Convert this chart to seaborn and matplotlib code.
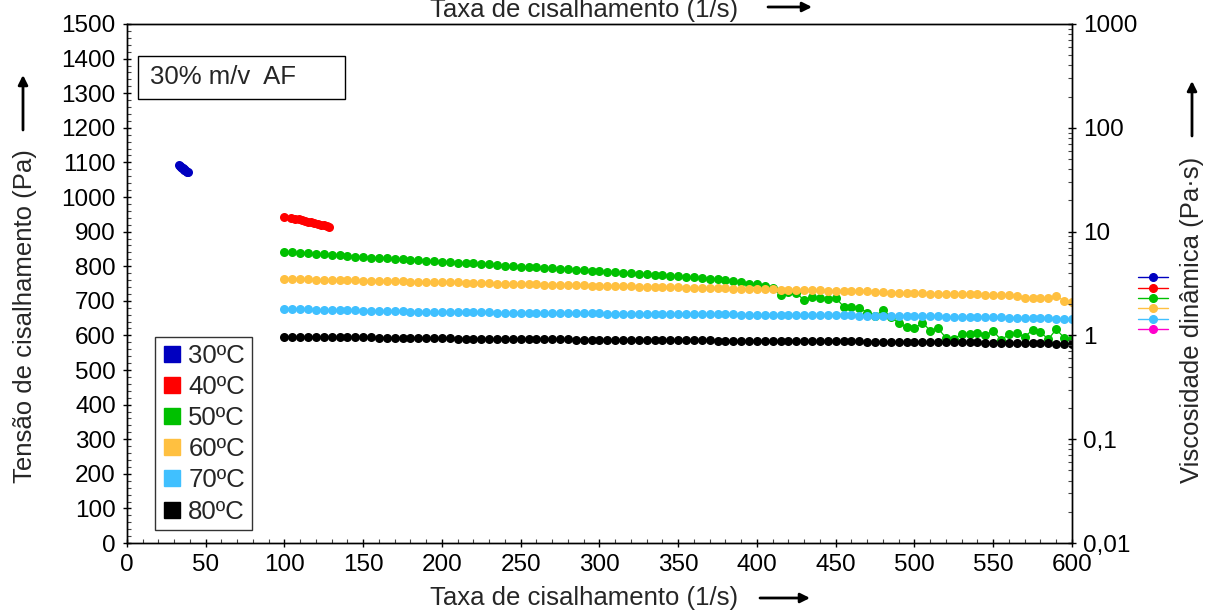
import numpy as np
import pandas as pd
import matplotlib
matplotlib.use("Agg")
import matplotlib.pyplot as plt
from matplotlib.lines import Line2D
from matplotlib.patches import Rectangle
from matplotlib.ticker import MultipleLocator, FixedLocator, FixedFormatter, LogLocator
import seaborn as sns

# =============================================================================
# DADOS
# =============================================================================
temperaturas = ["30ºC", "40ºC", "50ºC", "60ºC", "70ºC", "80ºC"]
cores = ["#0000C0", "#FF0000", "#00C000", "#FFC040", "#40C0FF", "#000000"]

taxa_30 = [33.0, 33.5, 34.0, 34.5, 35.0, 35.5, 36.0, 36.5, 37.0, 37.5, 38.0, 38.5]
tensao_30 = [1092, 1090, 1088, 1086, 1085, 1083, 1081, 1079, 1077, 1075, 1073, 1071]

taxa_40 = [100, 104, 107, 109, 111, 113, 115, 117, 119, 121, 123, 125, 127, 128.5]
tensao_40 = [941, 940, 937, 935, 933, 931, 929, 927, 925, 922, 920, 918, 916, 913]

taxa = [100, 105, 110, 115, 120, 125, 130, 135, 140, 145,
        150, 155, 160, 165, 170, 175, 180, 185, 190, 195,
        200, 205, 210, 215, 220, 225, 230, 235, 240, 245,
        250, 255, 260, 265, 270, 275, 280, 285, 290, 295,
        300, 305, 310, 315, 320, 325, 330, 335, 340, 345,
        350, 355, 360, 365, 370, 375, 380, 385, 390, 395,
        400, 405, 410, 415, 420, 425, 430, 435, 440, 445,
        450, 455, 460, 465, 470, 475, 480, 485, 490, 495,
        500, 505, 510, 515, 520, 525, 530, 535, 540, 545,
        550, 555, 560, 565, 570, 575, 580, 585, 590, 595,
        600]

tensao_50 = [841, 840, 838, 837, 835, 834, 833, 831, 830, 828,
             827, 825, 824, 823, 821, 820, 819, 817, 816, 815,
             813, 812, 810, 809, 808, 806, 805, 803, 802, 801,
             799, 798, 797, 795, 794, 792, 791, 790, 788, 787,
             786, 784, 783, 781, 780, 778, 777, 776, 774, 772,
             771, 769, 768, 766, 764, 762, 760, 757, 754, 749,
             749, 743, 736, 717, 726, 722, 702, 710, 709, 705,
             709, 683, 683, 680, 666, 656, 673, 654, 635, 625,
             620, 637, 614, 620, 593, 591, 603, 604, 606, 601,
             613, 587, 603, 606, 596, 616, 609, 589, 618, 593,
             590]

tensao_60 = [763, 763, 762, 762, 761, 761, 760, 760, 759, 759,
             758, 758, 757, 757, 756, 756, 755, 755, 755, 754,
             754, 753, 753, 752, 752, 751, 751, 750, 750, 749,
             749, 748, 748, 747, 747, 746, 746, 745, 745, 744,
             744, 743, 743, 742, 742, 741, 741, 740, 740, 739,
             739, 738, 738, 737, 737, 736, 736, 735, 735, 734,
             734, 733, 733, 732, 732, 731, 731, 730, 730, 729,
             729, 728, 728, 727, 727, 726, 725, 724, 723, 722,
             722, 722, 719, 719, 719, 719, 719, 719, 719, 717,
             717, 717, 717, 715, 707, 709, 709, 707, 715, 699,
             697]

tensao_70 = [676, 676, 675, 675, 674, 674, 673, 673, 672, 672,
             671, 671, 671, 670, 670, 670, 669, 669, 669, 668,
             668, 668, 668, 667, 667, 667, 667, 666, 666, 666,
             666, 665, 665, 665, 665, 664, 664, 664, 664, 664,
             664, 663, 663, 663, 663, 663, 662, 662, 662, 662,
             662, 662, 661, 661, 661, 661, 661, 661, 660, 660,
             660, 660, 660, 659, 659, 659, 659, 659, 658, 658,
             658, 658, 658, 657, 657, 657, 657, 656, 656, 656,
             656, 656, 655, 655, 654, 654, 653, 653, 653, 652,
             652, 652, 651, 651, 650, 650, 649, 649, 648, 647,
             646]

tensao_80 = [596, 596, 595, 595, 595, 595, 594, 594, 594, 594,
             594, 594, 593, 593, 593, 593, 593, 592, 592, 592,
             592, 592, 591, 591, 591, 591, 591, 590, 590, 590,
             590, 590, 589, 589, 589, 589, 589, 588, 588, 588,
             588, 588, 588, 587, 587, 587, 587, 587, 587, 586,
             586, 586, 586, 586, 586, 585, 585, 585, 585, 585,
             585, 584, 584, 584, 584, 584, 584, 583, 583, 583,
             583, 583, 583, 583, 582, 582, 582, 582, 582, 582,
             582, 581, 581, 581, 581, 580, 580, 580, 580, 579,
             579, 579, 579, 578, 578, 578, 577, 577, 576, 576,
             575]

visc_ticks = [0.01, 0.1, 1, 10, 100, 1000]
visc_labels = ["0,01", "0,1", "1", "10", "100", "1000"]
legenda_visc_cores = ["#0000C0", "#FF0000", "#00C000", "#FFC040", "#40C0FF", "#FF00CC"]

# tabela longa para o seaborn
series = [(taxa_30, tensao_30), (taxa_40, tensao_40), (taxa, tensao_50),
          (taxa, tensao_60), (taxa, tensao_70), (taxa, tensao_80)]
partes = []
for temp, (xs, ys) in zip(temperaturas, series):
    partes.append(pd.DataFrame({"taxa": xs, "tensao": ys, "temp": temp}))
df = pd.concat(partes, ignore_index=True)

# =============================================================================
# PLOTAGEM
# =============================================================================
sns.set_style("ticks")
plt.rcParams["font.family"] = ["Liberation Sans", "DejaVu Sans"]

FS_TICK = 17.5
FS_TXT = 18.5

fig = plt.figure(figsize=(12.08, 6.12), dpi=100)
ax = fig.add_axes([0.1051, 0.1127, 0.7823, 0.8481])

sns.lineplot(data=df, x="taxa", y="tensao", hue="temp", hue_order=temperaturas,
             palette=cores, marker="o", markersize=6.5, markeredgewidth=0,
             linewidth=0.9, estimator=None, sort=False, legend=False, ax=ax)

ax.set_xlim(0, 600)
ax.set_ylim(0, 1500)
ax.xaxis.set_major_locator(MultipleLocator(50))
ax.xaxis.set_minor_locator(MultipleLocator(10))
ax.yaxis.set_major_locator(MultipleLocator(100))
ax.yaxis.set_minor_locator(MultipleLocator(20))
ax.set_xlabel("")
ax.set_ylabel("")
ax.tick_params(which="major", direction="inout", length=6, width=1,
               labelsize=FS_TICK, colors="black", pad=5)
ax.tick_params(which="minor", direction="in", length=3, width=0.8, colors="#444444")
for s in ax.spines.values():
    s.set_color("black")
    s.set_linewidth(1.0)

# eixo secundário (viscosidade)
ax2 = ax.twinx()
ax2.set_yscale("log")
ax2.set_ylim(0.01, 1000)
ax2.yaxis.set_major_locator(FixedLocator(visc_ticks))
ax2.yaxis.set_major_formatter(FixedFormatter(visc_labels))
ax2.yaxis.set_minor_locator(LogLocator(base=10, subs=np.arange(2, 10)))
ax2.yaxis.set_minor_formatter(FixedFormatter([]))
ax2.tick_params(which="major", direction="inout", length=6, width=1,
                labelsize=FS_TICK, colors="black", pad=5)
ax2.tick_params(which="minor", direction="in", length=3, width=0.8, colors="#444444")
for s in ax2.spines.values():
    s.set_color("black")
    s.set_linewidth(1.0)

# caixa de título interna
ax.add_patch(Rectangle((0.0116, 0.8555), 0.219, 0.0829, transform=ax.transAxes,
                       facecolor="white", edgecolor="black", linewidth=1, zorder=5))
ax.text(0.0243, 0.897, "30% m/v  AF", transform=ax.transAxes, fontsize=FS_TXT,
        ha="left", va="center", zorder=6)

# legenda das temperaturas
handles = [Line2D([], [], linestyle="none", marker="s", markersize=12,
                  markerfacecolor=c, markeredgecolor=c) for c in cores]
leg = ax.legend(handles, temperaturas, loc="lower left", bbox_to_anchor=(0.0296, 0.025),
                borderaxespad=0, fontsize=FS_TXT, frameon=True, fancybox=False,
                handlelength=0.8, handletextpad=0.25, labelspacing=0.28,
                borderpad=0.25, edgecolor="black")
leg.get_frame().set_linewidth(1.0)
leg.set_zorder(7)

# legenda pequena (viscosidade) sem texto
h2 = [Line2D([], [], color=c, marker="o", markersize=5.5, linewidth=1)
      for c in legenda_visc_cores]
fig.legend(h2, [""] * 6, loc="center", bbox_to_anchor=(1153 / 1208, 1 - 304 / 612),
           frameon=False, fontsize=6, handlelength=3.6, handletextpad=0,
           labelspacing=0.3, borderpad=0)

# rótulos dos eixos com setas
fig.text(584 / 1208, 1 - 605 / 612, "Taxa de cisalhamento (1/s)", fontsize=FS_TXT,
         ha="center", va="baseline")
fig.text(584 / 1208, 1 - 17 / 612, "Taxa de cisalhamento (1/s)", fontsize=FS_TXT,
         ha="center", va="baseline")
fig.text(25 / 1208, 1 - 316 / 612, "Tensão de cisalhamento (Pa)", fontsize=FS_TXT,
         rotation=90, ha="center", va="center")
fig.text(1192 / 1208, 1 - 320 / 612, "Viscosidade dinâmica (Pa·s)", fontsize=FS_TXT,
         rotation=90, ha="center", va="center")

setas = [((760, 598), (810, 598)), ((768, 7), (812, 7)),
         ((23, 130), (23, 75)), ((1192, 136), (1192, 81))]
for (x0, y0), (x1, y1) in setas:
    ax.annotate("", xy=(x1 / 1208, 1 - y1 / 612), xytext=(x0 / 1208, 1 - y0 / 612),
                xycoords="figure fraction", textcoords="figure fraction",
                arrowprops=dict(arrowstyle="-|>", color="black", lw=2,
                                mutation_scale=14, shrinkA=0, shrinkB=0),
                annotation_clip=False)

fig.savefig("out.png", dpi=100)
